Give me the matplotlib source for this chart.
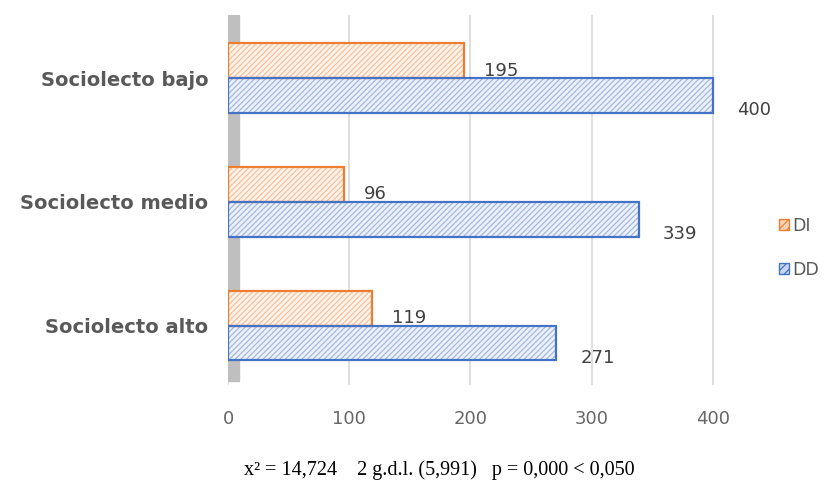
import matplotlib.pyplot as plt
from matplotlib.patches import Patch

categories = ["Sociolecto alto", "Sociolecto medio", "Sociolecto bajo"]
di_values = [119, 96, 195]
dd_values = [271, 339, 400]
x_ticks = [0, 100, 200, 300, 400]
caption = "x² = 14,724    2 g.d.l. (5,991)   p = 0,000 < 0,050"

ORANGE = "#ED7D31"
BLUE = "#4472C4"
GRAY = "#595959"


def draw_bars(ax, y, values, face, hatch_col, edge):
    # hatch layer first, then a plain outline on top
    ax.barh(y, values, height=0.28, color=face, edgecolor=hatch_col,
            linewidth=0, hatch="//////", zorder=3)
    ax.barh(y, values, height=0.28, fill=False, edgecolor=edge,
            linewidth=1.6, zorder=4)


def main():
    plt.rcParams["hatch.linewidth"] = 0.9
    fig = plt.figure(figsize=(8.25, 4.92), dpi=100)
    ax = fig.add_axes([228 / 825, 107 / 492, 509 / 825, 370 / 492])

    y = list(range(len(categories)))
    y_di = [v + 0.14 for v in y]
    y_dd = [v - 0.14 for v in y]

    draw_bars(ax, y_di, di_values, "#FEF3EA", "#F6C19B", ORANGE)
    draw_bars(ax, y_dd, dd_values, "#EDF1F9", "#A3B8E2", BLUE)

    for yy, v in zip(y_di, di_values):
        ax.text(v + 16, yy - 0.08, str(v), va="center", ha="left",
                fontsize=13, color="#404040")
    for yy, v in zip(y_dd, dd_values):
        ax.text(v + 20, yy - 0.12, str(v), va="center", ha="left",
                fontsize=13, color="#404040")

    # grey side wall
    ax.axvspan(-1, 9, ymin=0.01, ymax=1.0, color="#BFBFBF", zorder=1)

    ax.set_xlim(0, 420)
    ax.set_ylim(-0.48, 2.51)
    ax.set_xticks(x_ticks)
    ax.set_xticklabels([str(t) for t in x_ticks], fontsize=13, color="#666666")
    ax.set_yticks(y)
    ax.set_yticklabels(categories, fontsize=14, fontweight="bold", color=GRAY)
    ax.tick_params(axis="both", length=0)
    ax.tick_params(axis="x", pad=18)
    ax.tick_params(axis="y", pad=14)
    for s in ax.spines.values():
        s.set_visible(False)
    ax.xaxis.grid(True, color="#D9D9D9", linewidth=1.2, zorder=0)
    ax.set_axisbelow(True)

    handles = [
        Patch(facecolor="#FBD5B9", edgecolor=ORANGE, hatch="////", label="DI"),
        Patch(facecolor="#C9D6F0", edgecolor=BLUE, hatch="////", label="DD"),
    ]
    fig.legend(handles=handles, loc="center left", bbox_to_anchor=(779 / 825, 1 - 248 / 492),
               frameon=False, fontsize=12.5, handlelength=0.6, handleheight=0.6,
               handletextpad=0.15, labelspacing=1.5, labelcolor=GRAY,
               borderaxespad=0, borderpad=0)

    fig.text(439 / 825, 1 - 470 / 492, caption, ha="center", va="center",
             fontsize=14.5, family="Liberation Serif", color="black")

    fig.savefig("out.png", dpi=100)


if __name__ == "__main__":
    main()
